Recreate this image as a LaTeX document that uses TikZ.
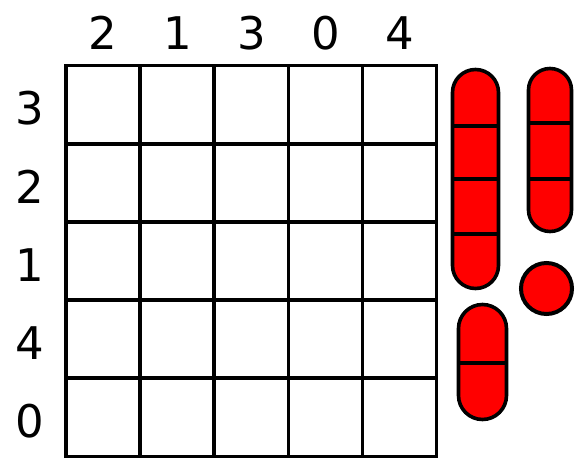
\documentclass[tikz,border=0pt]{standalone}
\usepackage{fontspec}
\setmainfont{DejaVu Sans}
\begin{document}
\begin{tikzpicture}[x=1pt,y=-1pt,
  gridline/.style={line width=3.8pt,line cap=rect},
  pill/.style={draw=black,fill=red,line width=3.6pt},
  divider/.style={line width=3.4pt},
  lbl/.style={inner sep=0pt,font=\fontsize{45}{50}\selectfont}]
\useasboundingbox (0,0) rectangle (584,459);
% grid
\foreach \i in {0,...,5}{
  \draw[gridline] ({66.3+74.04*\i},65.5) -- ({66.3+74.04*\i},456.5);
  \draw[gridline] (66.3,{65.5+78.2*\i}) -- (436.5,{65.5+78.2*\i});
}
% column labels
\node[lbl] (c1) at (103.3,33) {2};
\node[lbl] (c2) at (177.4,33) {1};
\node[lbl] (c3) at (251.4,33) {3};
\node[lbl] (c4) at (325.5,33) {0};
\node[lbl] (c5) at (399.5,33) {4};
% row labels
\node[lbl] (r1) at (30,108) {3};
\node[lbl] (r2) at (30,187) {2};
\node[lbl] (r3) at (30,265) {1};
\node[lbl] (r4) at (30,343) {4};
\node[lbl] (r5) at (30,421) {0};
% pill 1 (4 segments): x 452.5..498.5, r=23
\draw[pill] (452.5,92.5) arc[start angle=180,end angle=360,radius=23]
  -- (498.5,265.5) arc[start angle=0,end angle=180,radius=23] -- cycle;
\draw[divider] (452.5,126) -- (498.5,126);
\draw[divider] (452.5,179) -- (498.5,179);
\draw[divider] (452.5,234) -- (498.5,234);
% pill 2 (3 segments): x 528.5..571.5, r=21.5
\draw[pill] (528.5,90) arc[start angle=180,end angle=360,radius=21.5]
  -- (571.5,210) arc[start angle=0,end angle=180,radius=21.5] -- cycle;
\draw[divider] (528.5,123) -- (571.5,123);
\draw[divider] (528.5,179) -- (571.5,179);
% circle
\draw[pill,line width=4pt] (546.5,288.5) circle (25.5);
% pill 3 (2 segments): x 458.5..506.5, r=24
\draw[pill] (458.5,328.5) arc[start angle=180,end angle=360,radius=24]
  -- (506.5,395.5) arc[start angle=0,end angle=180,radius=24] -- cycle;
\draw[divider] (458.5,363) -- (506.5,363);
\end{tikzpicture}
\end{document}
